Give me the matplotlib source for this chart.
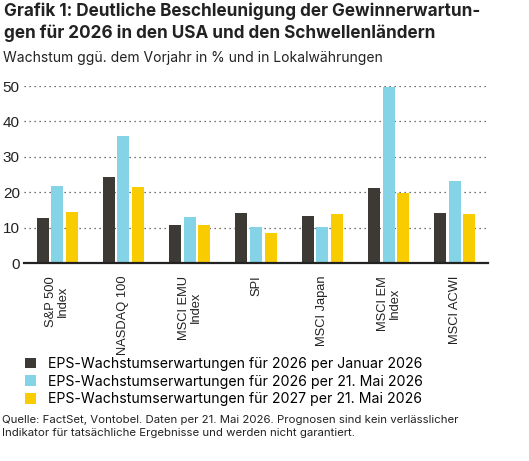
import matplotlib
matplotlib.use("Agg")
import matplotlib.pyplot as plt
import numpy as np

# Daten
indices = ["S&P 500\nIndex", "NASDAQ 100", "MSCI EMU\nIndex", "SPI",
           "MSCI Japan", "MSCI EM\nIndex", "MSCI ACWI"]
eps_2026_jan = [12.7, 24.2, 10.7, 14.1, 13.2, 21.1, 14.1]
eps_2026_mai = [21.8, 36.0, 13.1, 10.2, 10.2, 49.6, 23.1]
eps_2027_mai = [14.5, 21.5, 10.8, 8.5, 14.0, 19.9, 14.0]
series_labels = [
    "EPS-Wachstumserwartungen für 2026 per Januar 2026",
    "EPS-Wachstumserwartungen für 2026 per 21. Mai 2026",
    "EPS-Wachstumserwartungen für 2027 per 21. Mai 2026",
]
colors = ["#3d3935", "#84d3e6", "#f9cc00"]
y_ticks = [0, 10, 20, 30, 40, 50]

title = ("Grafik 1: Deutliche Beschleunigung der Gewinnerwartun-\n"
         "gen für 2026 in den USA und den Schwellenländern")
subtitle = "Wachstum ggü. dem Vorjahr in % und in Lokalwährungen"
source = ("Quelle: FactSet, Vontobel. Daten per 21. Mai 2026. Prognosen sind kein verlässlicher\n"
          "Indikator für tatsächliche Ergebnisse und werden nicht garantiert.")

W, H = 529, 461
fig = plt.figure(figsize=(W / 100, H / 100), dpi=100)
renderer = fig.canvas.get_renderer()


def fit_size(txt, width_px, family, weight="normal"):
    # Schriftgrösse so wählen, dass die (längste) Zeile width_px breit ist
    t = fig.text(0, 0, txt, fontsize=10, family=family, fontweight=weight)
    w = t.get_window_extent(renderer).width
    t.remove()
    return 10 * width_px / w


ax = fig.add_axes([24 / W, 1 - 263.3 / H, 464 / W, (263.3 - 86) / H])

x = np.arange(len(indices))
width = 0.18
step = 0.22
handles = []
for i, (vals, col, lab) in enumerate(zip([eps_2026_jan, eps_2026_mai, eps_2027_mai],
                                         colors, series_labels)):
    b = ax.bar(x + (i - 1) * step, vals, width, color=col, label=lab,
               zorder=3, clip_on=False)
    handles.append(b)

ax.set_xlim(-0.5, len(indices) - 0.5)
ax.set_ylim(0, 50)
ax.set_yticks(y_ticks)
ax.set_yticklabels([str(t) for t in y_ticks], fontsize=11, color="#222222",
                   family="Liberation Sans")
ax.tick_params(axis="y", length=0, pad=3)
ax.set_xticks(x)
ax.set_xticklabels(indices, rotation=90, fontsize=9.3, va="top", ha="center",
                   family="Liberation Sans", linespacing=1.0, color="#222222")
ax.tick_params(axis="x", length=0, pad=9)

ax.grid(axis="y", linestyle=(0, (1, 3)), color="#444444", linewidth=0.9, zorder=0)
for s in ["top", "right", "left"]:
    ax.spines[s].set_visible(False)
ax.spines["bottom"].set_color("#222222")
ax.spines["bottom"].set_linewidth(1.6)
ax.spines["bottom"].set_zorder(4)

fs_title = fit_size(title.split("\n")[0], 476, "Inter", "bold")
fig.text(4 / W, 1 - 3 / H, title, fontsize=fs_title, fontweight="bold",
         family="Inter", va="top", ha="left", color="#222222", linespacing=1.32)

fs_sub = fit_size(subtitle, 380, "Inter")
fig.text(3 / W, 1 - 51 / H, subtitle, fontsize=fs_sub, family="Inter",
         va="top", ha="left", color="#222222")

fs_leg = fit_size(series_labels[0], 374, "Inter")
fig.legend(handles=handles, labels=series_labels, loc="upper left",
           bbox_to_anchor=(25 / W, 1 - 357 / H), frameon=False,
           prop={"family": "Inter", "size": fs_leg}, handlelength=0.8,
           handleheight=0.8, handletextpad=0.8, labelspacing=0.25,
           borderaxespad=0, borderpad=0)

fs_src = fit_size(source.split("\n")[0], 460, "Inter")
fig.text(2 / W, 1 - 415 / H, source, fontsize=fs_src, family="Inter",
         va="top", ha="left", color="#222222", linespacing=1.35)

fig.savefig("out.png", dpi=100)
